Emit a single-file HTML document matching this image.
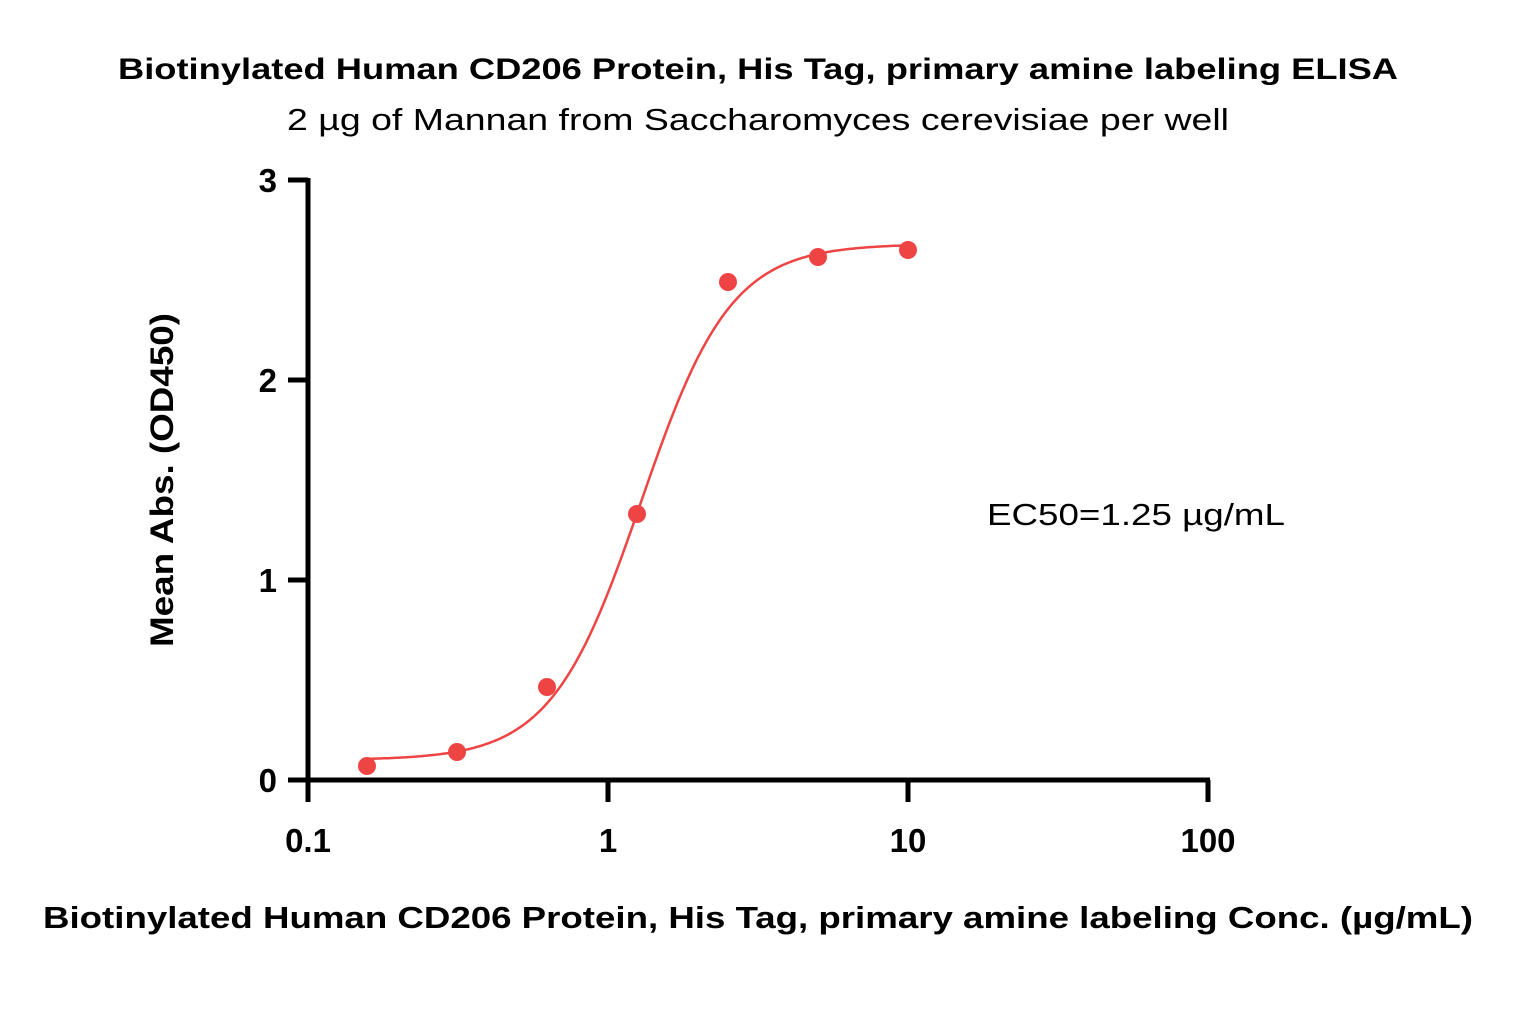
<!DOCTYPE html>
<html><head><meta charset="utf-8"><style>body{margin:0;background:#fff}svg{display:block}</style></head>
<body>
<svg width="1518" height="1035" xmlns="http://www.w3.org/2000/svg" font-family="Liberation Sans, sans-serif">
<text x="758" y="79" text-anchor="middle" font-size="30" font-weight="bold" textLength="1280" lengthAdjust="spacingAndGlyphs">Biotinylated Human CD206 Protein, His Tag, primary amine labeling ELISA</text>
<text x="758" y="130" text-anchor="middle" font-size="31" textLength="942" lengthAdjust="spacingAndGlyphs">2 µg of Mannan from Saccharomyces cerevisiae per well</text>
<g stroke="#000" stroke-width="5" fill="none">
<path d="M308,178 V780 H1210"/>
<path d="M288,180 H308 M288,380 H308 M288,580 H308 M288,780 H308"/>
<path d="M308,780 V802 M608,780 V802 M908,780 V802 M1208,780 V802"/>
</g>
<g font-size="33" font-weight="bold" text-anchor="end">
<text x="277" y="192">3</text><text x="277" y="392">2</text><text x="277" y="592">1</text><text x="277" y="792">0</text>
</g>
<g font-size="33" font-weight="bold" text-anchor="middle">
<text x="308" y="852">0.1</text><text x="608" y="852">1</text><text x="908" y="852">10</text><text x="1208" y="852">100</text>
</g>
<text transform="translate(173,480) rotate(-90)" text-anchor="middle" font-size="32" font-weight="bold" textLength="334" lengthAdjust="spacingAndGlyphs">Mean Abs. (OD450)</text>
<text x="758" y="928" text-anchor="middle" font-size="31" font-weight="bold" textLength="1430" lengthAdjust="spacingAndGlyphs">Biotinylated Human CD206 Protein, His Tag, primary amine labeling Conc. (µg/mL)</text>
<text x="987" y="525" font-size="31" textLength="298" lengthAdjust="spacingAndGlyphs">EC50=1.25 µg/mL</text>
<polyline id="fit" fill="none" stroke="#ee4444" stroke-width="2.5" stroke-linejoin="round" points="367,759 397,758 427,756 457,752 487,744 517,729 547,702 577,656 607,588 637,502 667,416 697,348 727,302 757,274 787,260 817,252 847,248 877,246 907,245"/>
<g fill="#ee4444">
<circle cx="367" cy="766" r="9"/><circle cx="457" cy="752" r="9"/><circle cx="547" cy="687" r="9"/><circle cx="637" cy="514" r="9"/><circle cx="728" cy="282" r="9"/><circle cx="818" cy="257" r="9"/><circle cx="908" cy="250" r="9"/>
</g>
</svg>
<script>
(function(){var p=[];for(var px=364;px<=908;px+=2){var u=(px-641)/300;var v=0.1+2.58/(1+Math.pow(10,-2.9*u));p.push(px+","+(780-200*v).toFixed(1));}document.getElementById("fit").setAttribute("points",p.join(" "));})();
</script>
</body></html>
